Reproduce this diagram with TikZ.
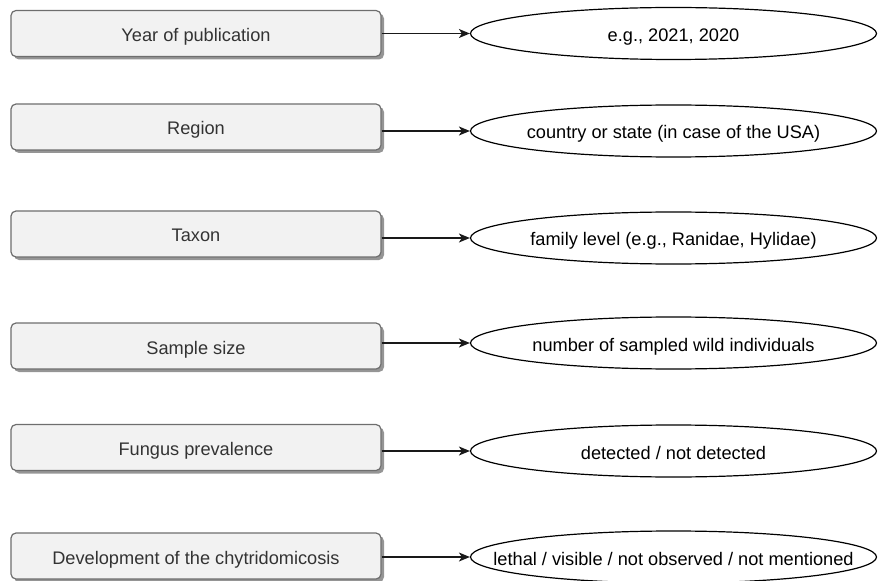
\documentclass[tikz,border=0pt]{standalone}
\usepackage{fontspec}
\setmainfont{Liberation Sans}
\usetikzlibrary{shapes.geometric,arrows.meta,shadows}
\definecolor{boxfill}{HTML}{F2F2F2}
\definecolor{boxline}{HTML}{6E6E6E}
\definecolor{boxtext}{HTML}{333333}
\definecolor{shadowgray}{HTML}{8A8A8A}
\begin{document}
\begin{tikzpicture}[x=1bp,y=-1bp,
  fieldbox/.style={draw=boxline, line width=1.2bp, fill=boxfill, rounded corners=5bp,
    minimum width=370bp, minimum height=46bp, inner sep=0pt, text=boxtext,
    font=\fontsize{18.2bp}{21bp}\selectfont, text height=16bp, text depth=0pt,
    drop shadow={shadow xshift=3bp, shadow yshift=-3bp, fill=shadowgray, opacity=0.9}},
  valell/.style={draw=black, line width=1.2bp, fill=white, ellipse,
    minimum width=406bp, minimum height=52bp, inner sep=0pt},
  vallabel/.style={font=\fontsize{18.2bp}{21bp}\selectfont, text=black,
    text height=16bp, text depth=0pt, inner sep=0pt},
  conn/.style={draw=black!90, line width=1.4bp, -{Stealth[length=11bp,width=9bp,inset=3bp]}}
]
\useasboundingbox (0,0) rectangle (878,581);

\node[fieldbox] (b1) at (196,33.5) {Year of publication};
\node[fieldbox] (b2) at (196,127) {Region};
\node[fieldbox] (b3) at (196,234) {Taxon};
\node[fieldbox] (b4) at (196,346) {Sample size};
\node[fieldbox] (b5) at (196,447.5) {Fungus prevalence};
\node[fieldbox] (b6) at (196,556) {Development of the chytridomicosis};

\node[valell, label={[vallabel]center:e.g., 2021, 2020}] (e1) at (673.5,33.5) {};
\node[valell, label={[vallabel]center:country or state (in case of the USA)}] (e2) at (673.5,131) {};
\node[valell, label={[vallabel]center:family level (e.g., Ranidae, Hylidae)}] (e3) at (673.5,238) {};
\node[valell, label={[vallabel]center:number of sampled wild individuals}] (e4) at (673.5,343) {};
\node[valell, label={[vallabel]center:detected / not detected}] (e5) at (673.5,451) {};
\node[valell, label={[vallabel]center:lethal / visible / not observed / not mentioned}] (e6) at (673.5,557) {};

\foreach \i in {1,...,6}{
  \draw[conn] (b\i.east |- e\i.west) -- (e\i.west);
}
\end{tikzpicture}
\end{document}
